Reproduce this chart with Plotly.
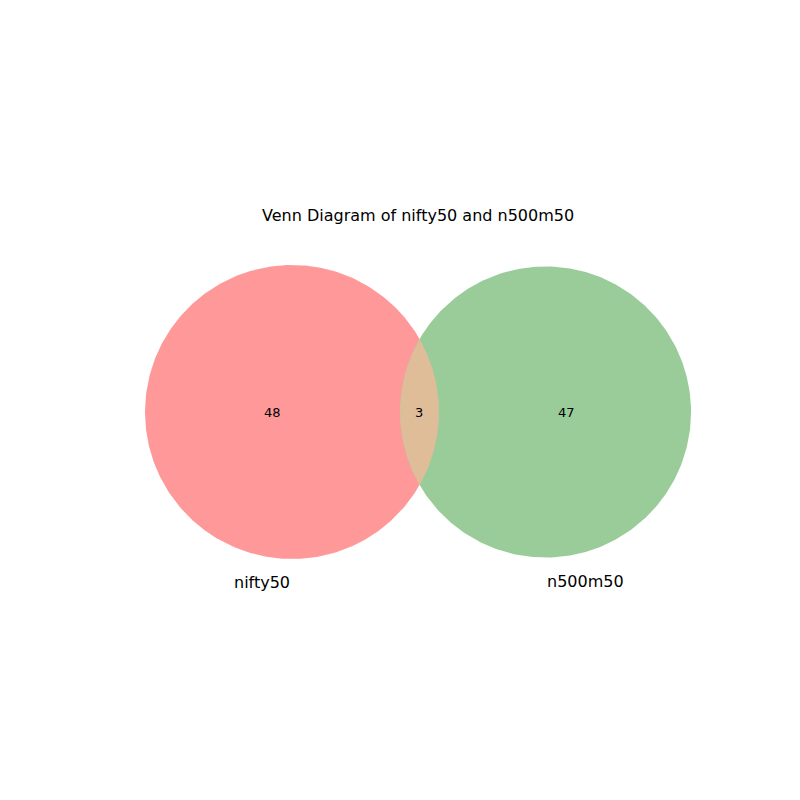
import numpy as np
import plotly.graph_objects as go

set_names = ["nifty50", "n500m50"]
region_counts = [48, 3, 47]  # only left, both, only right
set_colors = ["#ff9999", "#99cc99"]
overlap_color = "#dfbd99"
title = "Venn Diagram of nifty50 and n500m50"

# layout in pixel units of the 800x800 page
sizes = [region_counts[0] + region_counts[1], region_counts[2] + region_counts[1]]
scale = 147 / np.sqrt(sizes[0])
radii = [scale * np.sqrt(s) for s in sizes]
cy = 404
centers = [284, 537.5]

t = np.linspace(0, 2 * np.pi, 400)

fig = go.Figure()
for c, r, col in zip(centers, radii, set_colors):
    fig.add_trace(go.Scatter(x=c + r * np.cos(t), y=cy + r * np.sin(t), fill="toself",
                             fillcolor=col, line=dict(width=0), mode="lines", hoverinfo="skip"))

# lens where the circles overlap
d = centers[1] - centers[0]
a = (d**2 + radii[0]**2 - radii[1]**2) / (2 * d)
h = np.sqrt(radii[0]**2 - a**2)
ang0 = np.arctan2(h, a)
ang1 = np.arctan2(h, -(d - a))
t0 = np.linspace(-ang0, ang0, 100)
t1 = np.linspace(ang1, 2 * np.pi - ang1, 100)
lx = np.concatenate([centers[0] + radii[0] * np.cos(t0), centers[1] + radii[1] * np.cos(t1)])
ly = np.concatenate([cy + radii[0] * np.sin(t0), cy + radii[1] * np.sin(t1)])
fig.add_trace(go.Scatter(x=lx, y=ly, fill="toself", fillcolor=overlap_color,
                         line=dict(width=0), mode="lines", hoverinfo="skip"))

label_x = [264, 411, 558]
for x, n in zip(label_x, region_counts):
    fig.add_annotation(x=x, y=cy, text=str(n), showarrow=False, font=dict(size=13, color="black"))

for x, y, name in zip([254, 577], [574, 573], set_names):
    fig.add_annotation(x=x, y=y, text=name, showarrow=False, font=dict(size=16, color="black"))

fig.add_annotation(x=410, y=207, text=title, showarrow=False, font=dict(size=16, color="black"))

fig.update_layout(
    width=800, height=800, showlegend=False,
    margin=dict(l=0, r=0, t=0, b=0),
    paper_bgcolor="white", plot_bgcolor="white",
    font=dict(family="DejaVu Sans"),
    xaxis=dict(range=[0, 800], visible=False, fixedrange=True),
    yaxis=dict(range=[800, 0], visible=False, fixedrange=True),
)
fig.write_html("out.html")
